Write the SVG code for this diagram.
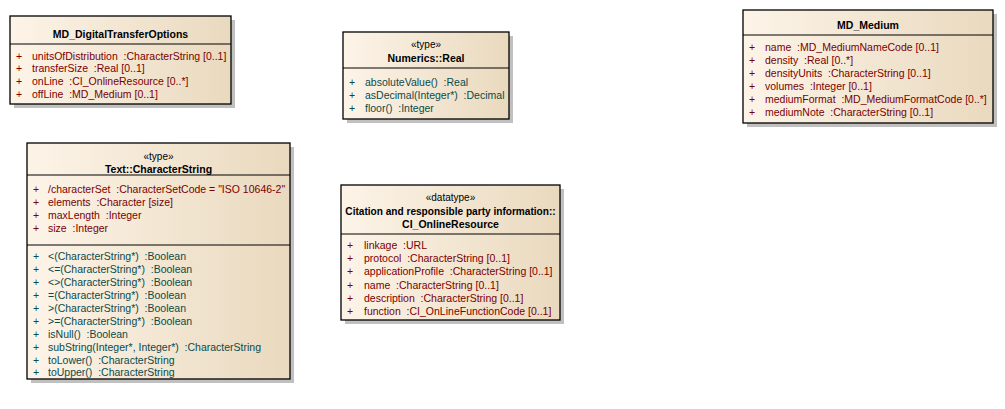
<svg xmlns="http://www.w3.org/2000/svg" width="1005" height="409" viewBox="0 0 1005 409">
<defs>
<linearGradient id="g" x1="0" y1="0" x2="1" y2="0">
<stop offset="0" stop-color="#fdf4e8"/>
<stop offset="1" stop-color="#e9d9be"/>
</linearGradient>
<style>
.sh{fill:#c0c0c0}
.bx{fill:url(#g);stroke:#000;stroke-width:1.3}
.dv{stroke:#000;stroke-width:1}
text{font-family:"Liberation Sans",Arial,sans-serif;font-size:10.5px;white-space:pre}
.t{font-weight:bold;text-anchor:middle;fill:#000}
.st{text-anchor:middle;fill:#000;font-size:10px}
.a{fill:#7a0000}
.o{fill:#0a4a4a}
</style>
</defs>
<rect width="1005" height="409" fill="#fff"/>
<g id="connectors"/>
<g id="MD_DigitalTransferOptions">
<rect class="sh" x="14" y="20" width="221" height="88"/>
<rect class="bx" x="10" y="16" width="221" height="88"/>
<line class="dv" x1="10" y1="44" x2="231" y2="44"/>
<text class="t" x="120.5" y="38">MD_DigitalTransferOptions</text>
<text class="a" x="16" y="60">+</text><text class="a" x="32" y="60">unitsOfDistribution  :CharacterString [0..1]</text>
<text class="a" x="16" y="72">+</text><text class="a" x="32" y="72">transferSize  :Real [0..1]</text>
<text class="a" x="16" y="85">+</text><text class="a" x="32" y="85">onLine  :CI_OnlineResource [0..*]</text>
<text class="a" x="16" y="98">+</text><text class="a" x="32" y="98">offLine  :MD_Medium [0..1]</text>
</g>
<g id="Numerics_Real">
<rect class="sh" x="347" y="36" width="166" height="87"/>
<rect class="bx" x="343" y="32" width="166" height="87"/>
<line class="dv" x1="343" y1="68" x2="509" y2="68"/>
<text class="st" x="426" y="48">«type»</text>
<text class="t" x="426" y="62">Numerics::Real</text>
<text class="o" x="349" y="86">+</text><text class="o" x="365" y="86">absoluteValue()  :Real</text>
<text class="o" x="349" y="99">+</text><text class="o" x="365" y="99">asDecimal(Integer*)  :Decimal</text>
<text class="o" x="349" y="112">+</text><text class="o" x="365" y="112">floor()  :Integer</text>
</g>
<g id="MD_Medium">
<rect class="sh" x="747" y="14" width="250" height="113"/>
<rect class="bx" x="743" y="10" width="250" height="113"/>
<line class="dv" x1="743" y1="35" x2="993" y2="35"/>
<text class="t" x="868" y="29">MD_Medium</text>
<text class="a" x="749" y="51">+</text><text class="a" x="765" y="51">name  :MD_MediumNameCode [0..1]</text>
<text class="a" x="749" y="64">+</text><text class="a" x="765" y="64">density  :Real [0..*]</text>
<text class="a" x="749" y="77">+</text><text class="a" x="765" y="77">densityUnits  :CharacterString [0..1]</text>
<text class="a" x="749" y="90">+</text><text class="a" x="765" y="90">volumes  :Integer [0..1]</text>
<text class="a" x="749" y="103">+</text><text class="a" x="765" y="103">mediumFormat  :MD_MediumFormatCode [0..*]</text>
<text class="a" x="749" y="116">+</text><text class="a" x="765" y="116">mediumNote  :CharacterString [0..1]</text>
</g>
<g id="Text_CharacterString">
<rect class="sh" x="31" y="147" width="263" height="236"/>
<rect class="bx" x="27" y="143" width="263" height="236"/>
<line class="dv" x1="27" y1="175" x2="290" y2="175"/>
<line class="dv" x1="27" y1="245" x2="290" y2="245"/>
<text class="st" x="158.5" y="160">«type»</text>
<text class="t" x="158.5" y="173">Text::CharacterString</text>
<text class="a" x="33" y="193">+</text><text class="a" x="48" y="193">/characterSet  :CharacterSetCode = "ISO 10646-2"</text>
<text class="a" x="33" y="206">+</text><text class="a" x="48" y="206">elements  :Character [size]</text>
<text class="a" x="33" y="219">+</text><text class="a" x="48" y="219">maxLength  :Integer</text>
<text class="a" x="33" y="232">+</text><text class="a" x="48" y="232">size  :Integer</text>
<text class="o" x="33" y="260">+</text><text class="o" x="48" y="260">&lt;(CharacterString*)  :Boolean</text>
<text class="o" x="33" y="273">+</text><text class="o" x="48" y="273">&lt;=(CharacterString*)  :Boolean</text>
<text class="o" x="33" y="286">+</text><text class="o" x="48" y="286">&lt;&gt;(CharacterString*)  :Boolean</text>
<text class="o" x="33" y="299">+</text><text class="o" x="48" y="299">=(CharacterString*)  :Boolean</text>
<text class="o" x="33" y="312">+</text><text class="o" x="48" y="312">&gt;(CharacterString*)  :Boolean</text>
<text class="o" x="33" y="325">+</text><text class="o" x="48" y="325">&gt;=(CharacterString*)  :Boolean</text>
<text class="o" x="33" y="338">+</text><text class="o" x="48" y="338">isNull()  :Boolean</text>
<text class="o" x="33" y="351">+</text><text class="o" x="48" y="351">subString(Integer*, Integer*)  :CharacterString</text>
<text class="o" x="33" y="364">+</text><text class="o" x="48" y="364">toLower()  :CharacterString</text>
<text class="o" x="33" y="376">+</text><text class="o" x="48" y="376">toUpper()  :CharacterString</text>
</g>
<g id="CI_OnlineResource">
<rect class="sh" x="345" y="189" width="219" height="135"/>
<rect class="bx" x="341" y="185" width="219" height="135"/>
<line class="dv" x1="341" y1="234" x2="560" y2="234"/>
<text class="st" x="450.5" y="201">«datatype»</text>
<text class="t" x="450.5" y="215" style="font-size:10.1px">Citation and responsible party information::</text>
<text class="t" x="450.5" y="228">CI_OnlineResource</text>
<text class="a" x="347" y="249">+</text><text class="a" x="364" y="249">linkage  :URL</text>
<text class="a" x="347" y="262">+</text><text class="a" x="364" y="262">protocol  :CharacterString [0..1]</text>
<text class="a" x="347" y="275">+</text><text class="a" x="364" y="275">applicationProfile  :CharacterString [0..1]</text>
<text class="a" x="347" y="289">+</text><text class="a" x="364" y="289">name  :CharacterString [0..1]</text>
<text class="a" x="347" y="302">+</text><text class="a" x="364" y="302">description  :CharacterString [0..1]</text>
<text class="a" x="347" y="315">+</text><text class="a" x="364" y="315">function  :CI_OnLineFunctionCode [0..1]</text>
</g>
</svg>
